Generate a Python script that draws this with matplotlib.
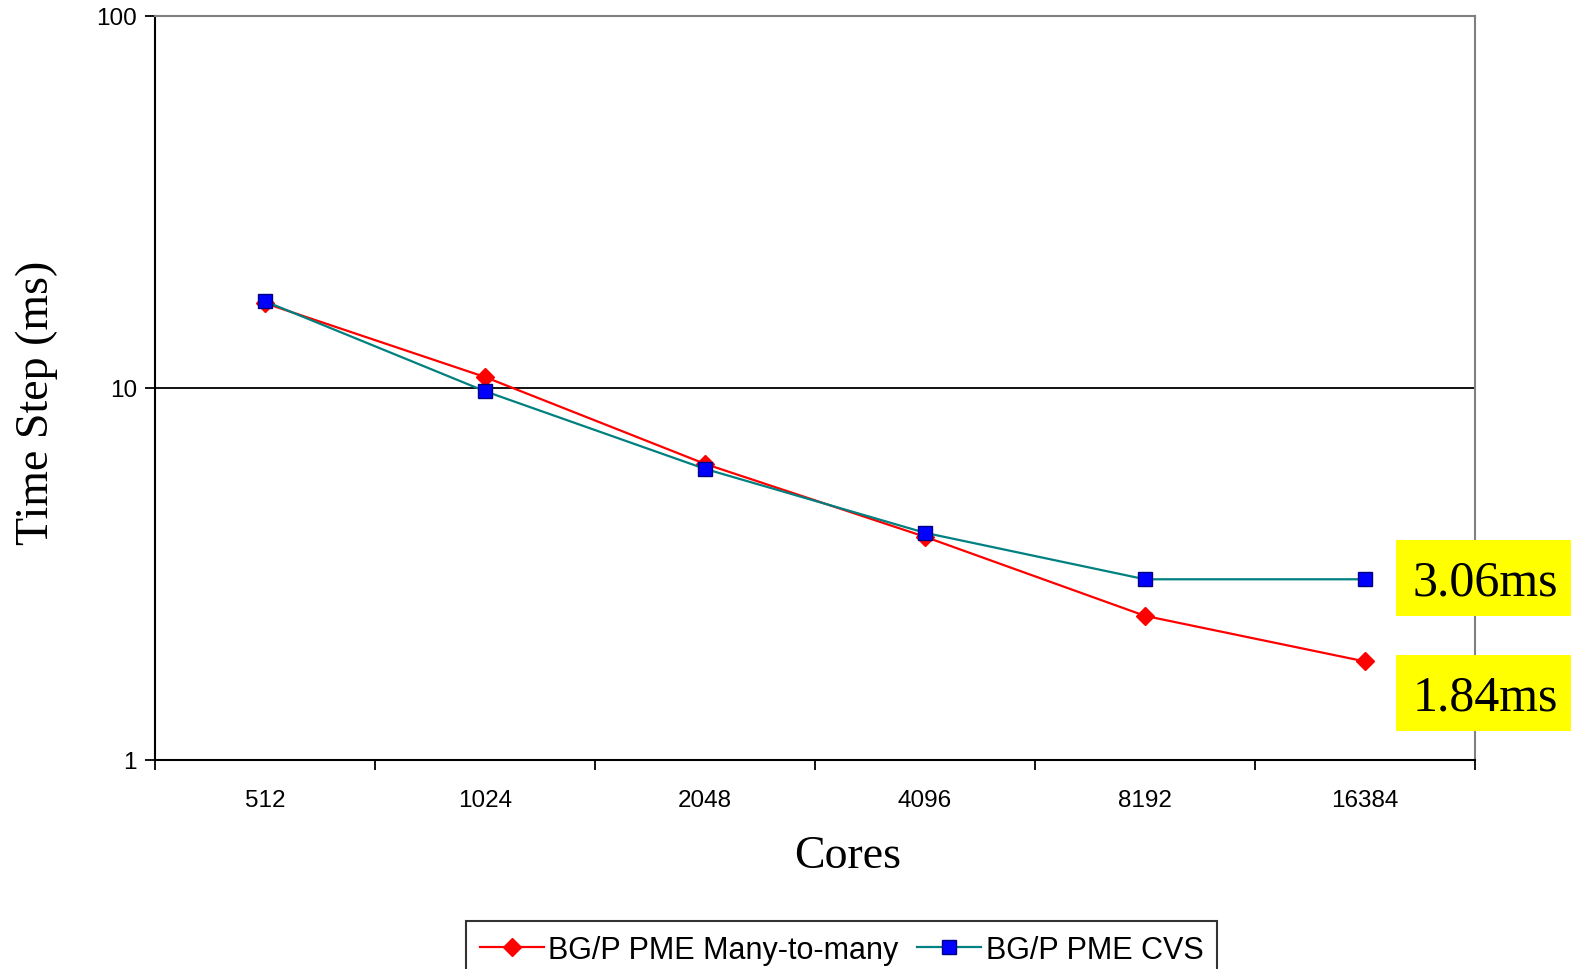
import matplotlib.pyplot as plt
from matplotlib.patches import Rectangle

# ── Datos ─────────────────────────────────────────────────────────────────────
cores = ['512', '1024', '2048', '4096', '8192', '16384']
many_to_many_ms = [16.9, 10.7, 6.25, 3.98, 2.44, 1.84]
cvs_ms = [17.1, 9.8, 6.06, 4.08, 3.06, 3.06]
callouts = ['3.06ms', '1.84ms']

plt.rcParams.update({'font.family': 'Liberation Sans'})
SERIF = 'Liberation Serif'

fig = plt.figure(figsize=(15.71, 9.70), dpi=100)
ax = fig.add_axes([0.0987, 0.2155, 0.8402, 0.767])

x = range(len(cores))
ax.plot(x, many_to_many_ms, '-', color='#FF0000', lw=1.6,
        marker='D', ms=9.5, mfc='#FF0000', mec='#FF0000',
        label='BG/P PME Many-to-many')
ax.plot(x, cvs_ms, '-', color='#008080', lw=1.6,
        marker='s', ms=10, mfc='#0000FF', mec='#000080', mew=1,
        label='BG/P PME CVS')

ax.set_yscale('log')
ax.set_ylim(1, 100)
ax.set_xlim(-0.5, len(cores) - 0.5)
ax.set_yticks([1, 10, 100])
ax.set_yticklabels(['1', '10', '100'])
ax.minorticks_off()
ax.axhline(10, color='black', lw=1.3, zorder=0)

# marcas del eje x en los límites de las categorías
ax.set_xticks([i - 0.5 for i in range(len(cores) + 1)])
ax.set_xticklabels([])
ax.set_xticks(list(x), minor=True)
ax.set_xticklabels(cores, minor=True)
ax.tick_params(axis='x', which='minor', length=0, pad=21, labelsize=17.5)
ax.tick_params(axis='x', which='major', length=7, width=1.3, direction='out')
ax.tick_params(axis='y', length=7, width=1.3, labelsize=17.5, pad=6)

for side in ['left', 'bottom']:
    ax.spines[side].set_color('black')
    ax.spines[side].set_linewidth(1.5)
for side in ['top', 'right']:
    ax.spines[side].set_color('#808080')
    ax.spines[side].set_linewidth(1.5)

ax.set_xlabel('Cores', fontfamily=SERIF, fontsize=33)
ax.set_ylabel('Time Step (ms)', fontfamily=SERIF, fontsize=33)
ax.xaxis.set_label_coords(0.5245, -0.1)
ax.yaxis.set_label_coords(-0.0735, 0.481)

# ── Etiquetas amarillas ──────────────────────────────────────────────────────
W, H = 1571, 970
for (y0, y1), txt in zip([(541, 617), (656, 732)], callouts):
    fig.patches.append(Rectangle((1396 / W, 1 - y1 / H), (W - 1396) / W,
                                 (y1 - y0) / H, transform=fig.transFigure,
                                 facecolor='#FFFF00', edgecolor='none',
                                 zorder=5))
    fig.text(1485 / W, 1 - ((y0 + y1) / 2 + 4) / H, txt, fontfamily=SERIF,
             fontsize=36, ha='center', va='center', zorder=6)

leg = fig.legend(loc='upper center', bbox_to_anchor=(0.5357, 0.0495),
                 ncol=2, fontsize=22, frameon=True, fancybox=False,
                 edgecolor='black', handlelength=2.1, handletextpad=0.15,
                 columnspacing=0.6, borderpad=0.45, borderaxespad=0)
leg.get_frame().set_linewidth(1.5)

fig.savefig('out.png', dpi=100)
